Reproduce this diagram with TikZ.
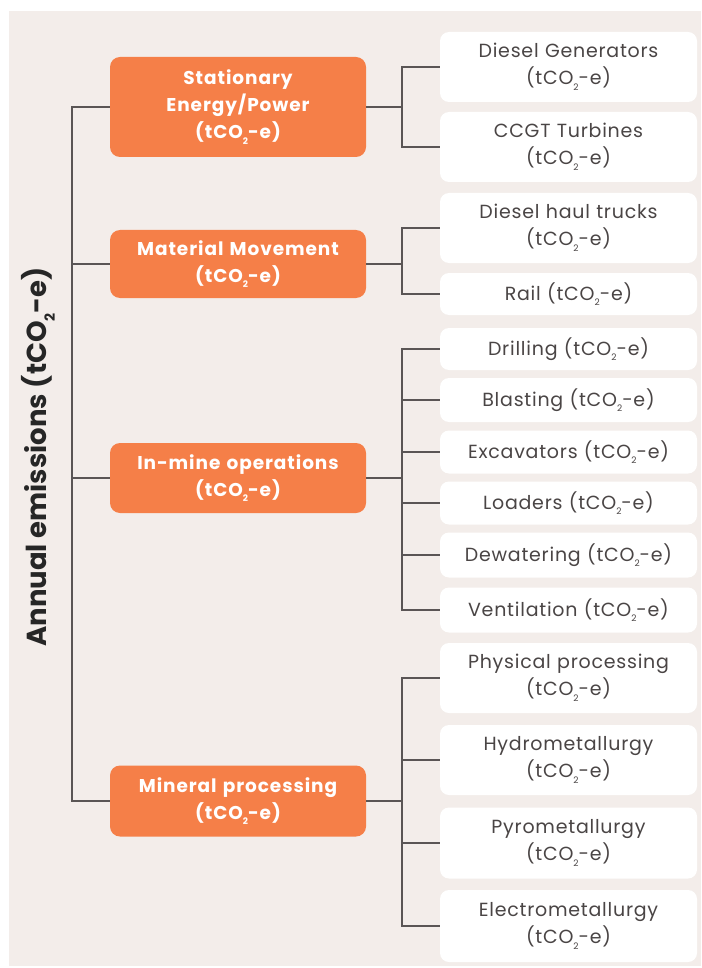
\documentclass[tikz,border=0pt]{standalone}
\usepackage{fontspec}
\setmainfont{Poppins}
\newfontfamily\leaffont[LetterSpace=4]{Poppins}
\newfontfamily\catfont[LetterSpace=5]{Poppins}
\newcommand\cotwo[1][9]{(tCO\raisebox{-0.55ex}{\fontsize{#1}{#1}\selectfont 2}-e)}
\definecolor{bgc}{HTML}{F3EDEA}
\definecolor{orng}{HTML}{F57F48}
\definecolor{txtc}{HTML}{4A4545}
\definecolor{linec}{HTML}{5A5555}
\tikzset{
  catbox/.style={fill=orng, rounded corners=10pt, minimum width=256pt, text width=254pt, align=center, inner sep=0pt, text=white, font=\catfont\fontsize{18.5}{27}\selectfont\bfseries},
  leafbox/.style={fill=white, rounded corners=9pt, minimum width=257pt, text width=255pt, align=center, inner sep=0pt, text=txtc, font=\leaffont\fontsize{19}{27}\selectfont},
  conn/.style={draw=linec, line width=1.1pt},
}
\begin{document}
\begin{tikzpicture}[x=1pt,y=-1pt]
\useasboundingbox (0,0) rectangle (701,968);
\fill[bgc] (9,11) rectangle (701,966);
% title
\node[rotate=90, text=black!85, font=\fontsize{27.5}{32}\selectfont\bfseries] (title) at (38,457) {Annual emissions \cotwo[14]};
% categories
\node[catbox, minimum height=100pt] (st) at (238,107) {Stationary\\Energy/Power\\\cotwo};
\node[catbox, minimum height=68pt] (mm) at (238,264) {Material Movement\\\cotwo};
\node[catbox, minimum height=70pt] (im) at (238,478) {In-mine operations\\\cotwo};
\node[catbox, minimum height=71pt] (mp) at (238,801) {Mineral processing\\\cotwo};
% leaves
\node[leafbox, minimum height=70pt] (dg) at (568.5,67) {Diesel Generators\\\cotwo};
\node[leafbox, minimum height=70pt] (cc) at (568.5,147) {CCGT Turbines\\\cotwo};
\node[leafbox, minimum height=70pt] (dh) at (568.5,228) {Diesel haul trucks\\\cotwo};
\node[leafbox, minimum height=42pt] (ra) at (568.5,294) {Rail \cotwo};
\node[leafbox, minimum height=42pt] (dr) at (568.5,349) {Drilling \cotwo};
\node[leafbox, minimum height=44pt] (bl) at (568.5,400) {Blasting \cotwo};
\node[leafbox, minimum height=43pt] (ex) at (568.5,452) {Excavators \cotwo};
\node[leafbox, minimum height=43pt] (lo) at (568.5,503) {Loaders \cotwo};
\node[leafbox, minimum height=45pt] (de) at (568.5,555) {Dewatering \cotwo};
\node[leafbox, minimum height=45pt] (ve) at (568.5,610) {Ventilation \cotwo};
\node[leafbox, minimum height=70pt] (pp) at (568.5,678) {Physical processing\\\cotwo};
\node[leafbox, minimum height=70pt] (hy) at (568.5,760) {Hydrometallurgy\\\cotwo};
\node[leafbox, minimum height=71pt] (py) at (568.5,843) {Pyrometallurgy\\\cotwo};
\node[leafbox, minimum height=72pt] (el) at (568.5,926) {Electrometallurgy\\\cotwo};
% trunk
\coordinate (trunk) at (72,0);
\coordinate (bus) at (402,0);
\draw[conn] (st.west) -- (st.west -| trunk) |- (mp.west);
\draw[conn] (mm.west) -- (mm.west -| trunk);
\draw[conn] (im.west) -- (im.west -| trunk);
% branches
\draw[conn] (st.east) -- (st.east -| bus);
\draw[conn] (dg.west) -- (dg.west -| bus) |- (cc.west);
\draw[conn] (mm.east) -- (mm.east -| bus);
\draw[conn] (dh.west) -- (dh.west -| bus) |- (ra.west);
\draw[conn] (im.east) -- (im.east -| bus);
\draw[conn] (dr.west) -- (dr.west -| bus) |- (ve.west);
\foreach \n in {bl,ex,lo,de} \draw[conn] (\n.west) -- (\n.west -| bus);
\draw[conn] (mp.east) -- (mp.east -| bus);
\draw[conn] (pp.west) -- (pp.west -| bus) |- (el.west);
\foreach \n in {hy,py} \draw[conn] (\n.west) -- (\n.west -| bus);
\end{tikzpicture}
\end{document}
